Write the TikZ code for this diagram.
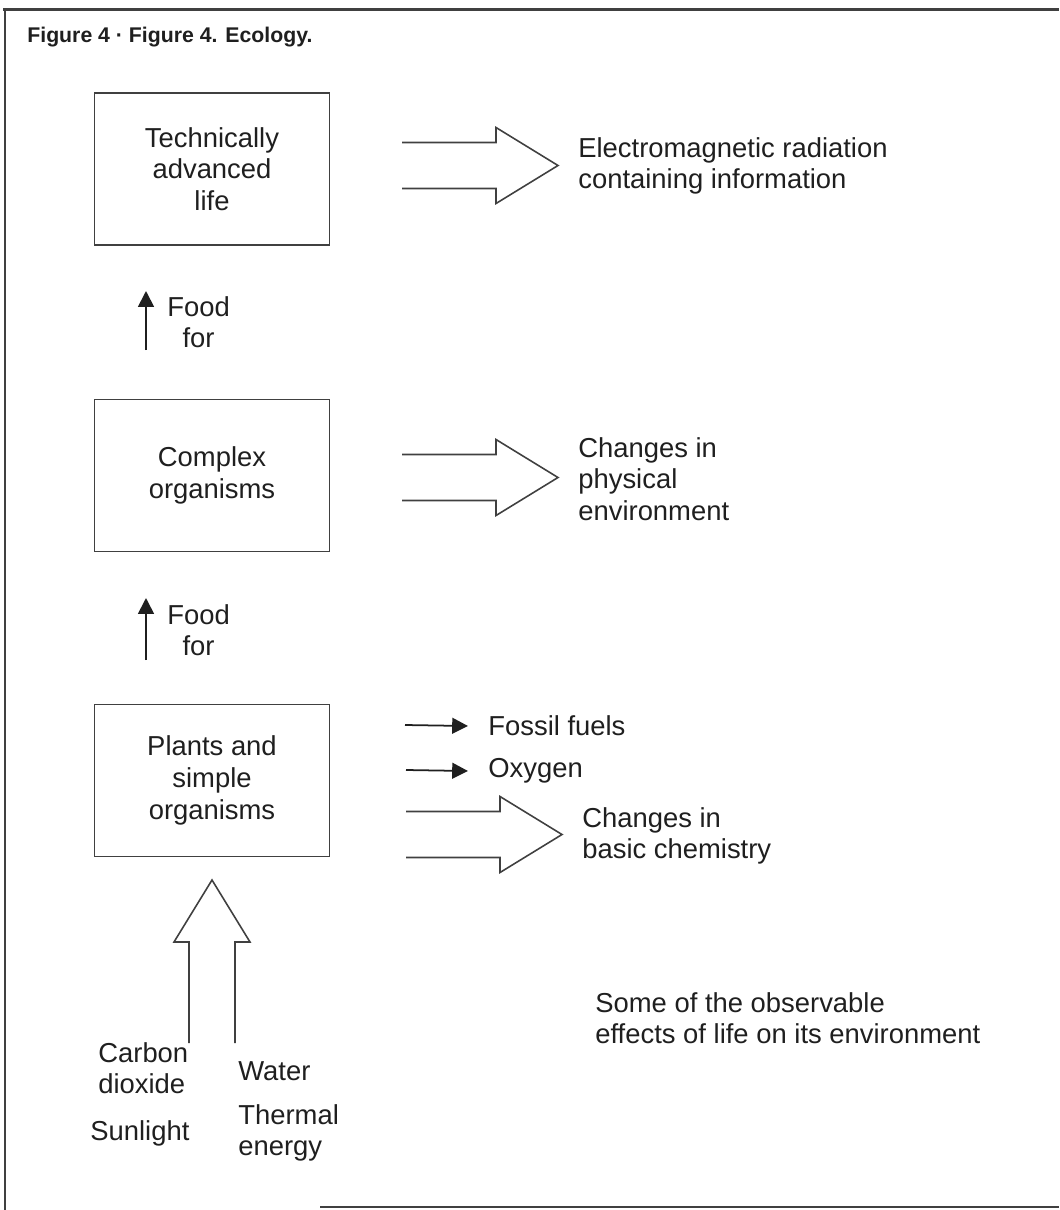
\documentclass[tikz,border=0pt]{standalone}
\usepackage{fontspec}
\setmainfont{Liberation Sans}
\usetikzlibrary{arrows.meta}
\definecolor{ink}{gray}{0.12}
\definecolor{rule}{gray}{0.25}
\newcommand{\widearrow}[3]{
\draw[hollow, shift={(#1)}, rotate=#2] (0,-23) -- (#3-62,-23) -- (#3-62,-38) -- (#3,0) -- (#3-62,38) -- (#3-62,23) -- (0,23);
}
\tikzset{
  lab/.style={anchor=west, align=left, inner sep=0pt, text=ink, font=\fontsize{15.6}{17.8}\selectfont},
  stagebox/.style={draw=rule, line width=1.1pt, minimum width=4.7cm, minimum height=3.04cm, align=center, text=ink, font=\fontsize{15.6}{18}\selectfont},
  hollow/.style={draw=rule, line width=0.9pt, line join=miter},
  feed/.style={draw=ink, line width=1pt, -{Triangle[length=9pt, width=9pt]}},
  frame/.style={draw=rule, line width=1.6pt},
}

\begin{document}
\begin{tikzpicture}[x=0.02cm, y=-0.02cm]
\useasboundingbox (0,0) rectangle (1059,1210);
\draw[frame] (3,9.5) -- (1059,9.5);
\draw[frame] (5,9.5) -- (5,1210);
\draw[frame] (320,1207) -- (1059,1207);
\node[anchor=base west, inner sep=0pt, text=ink, font=\bfseries\fontsize{12.1}{14}\selectfont] (title) at (27,42) {Figure 4 · Figure 4. Ecology.};

% the three stages
\node[stagebox] (life) at (212,169) {Technically\\advanced\\life};
\node[stagebox] (complex) at (212,475.5) {Complex\\organisms};
\node[stagebox] (plants) at (212,780.5) {Plants and\\simple\\organisms};

% food chain
\coordinate (food1a) at (146,350);
\coordinate (food1b) at (146,291);
\coordinate (food2a) at (146,660);
\coordinate (food2b) at (146,598);
\draw[feed] (food1a) -- (food1b);
\draw[feed] (food2a) -- (food2b);
\node[lab, align=center] (food1) at (167,322) {Food\\for};
\node[lab, align=center] (food2) at (167,630) {Food\\for};

% effects
\coordinate (emtail) at (402,165.5);
\coordinate (phystail) at (402,477.5);
\coordinate (chemtail) at (406,834.5);
\coordinate (intail) at (212,1043);
\widearrow{emtail}{0}{156}
\widearrow{phystail}{0}{156}
\widearrow{chemtail}{0}{156}
\widearrow{intail}{90}{163}
\node[lab] (radiation) at (578,166) {Electromagnetic radiation\\containing information};
\node[lab] (physical) at (578,479) {Changes in\\physical\\environment};
\node[lab] (fossil) at (488,726) {Fossil fuels};
\node[lab] (oxygen) at (488,771) {Oxygen};
\node[lab] (chemistry) at (582,836) {Changes in\\basic chemistry};
\coordinate (fossiltail) at (405,725);
\coordinate (oxytail) at (406,770);
\draw[feed] (fossiltail) -- (fossil.west -| 468,0);
\draw[feed] (oxytail) -- (oxygen.west -| 468,0);

% inputs
\node[lab] (carbon) at (98,1068) {Carbon\\dioxide};
\node[lab] (sunlight) at (90,1133) {Sunlight};
\node[lab] (water) at (238,1071) {Water};
\node[lab] (thermal) at (238,1133) {Thermal\\energy};

\node[lab] (caption) at (595,1018) {Some of the observable\\effects of life on its environment};
\end{tikzpicture}
\end{document}
